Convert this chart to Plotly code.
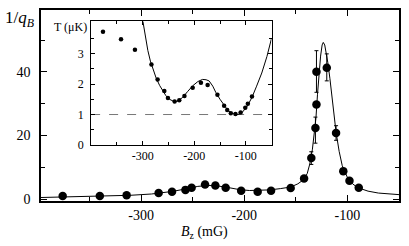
import plotly.graph_objects as go

# ---- main panel data: 1/q_B vs B_z (mG) ----
main_x = [-376, -340, -314, -283, -270, -257, -251, -238, -228, -218, -203, -187, -174,
          -155, -142, -135, -131, -130, -130, -120, -111, -104, -98, -89]
main_y = [1.0, 1.0, 1.2, 1.9, 2.3, 2.9, 3.6, 4.6, 4.3, 3.6, 2.6, 2.3, 2.6,
          3.5, 6.5, 12.9, 22.4, 29.8, 40.1, 41.3, 20.8, 8.8, 5.8, 3.6]
err_plus = [0, 0, 0, 0, 0, 0, 0, 0, 0, 0, 0, 0, 0,
            0, 0, 2.0, 3.4, 0, 6.6, 4.4, 2.3, 0, 0, 0]
err_minus = [0, 0, 0, 0, 0, 0, 0, 0, 0, 0, 0, 0, 0,
             0, 0, 2.0, 4.8, 0, 6.5, 4.1, 2.3, 0, 0, 0]

# fitted curve
fit_x = [-397, -370, -340, -310, -290, -270, -255, -245, -235, -225, -215, -205, -195,
         -185, -175, -165, -155, -148, -143, -139, -136.5, -134, -132, -130.5, -129,
         -127.5, -126, -124.5, -123.4, -122, -120.5, -119, -117, -115, -113, -111,
         -108, -105, -100, -95, -90, -80, -70, -60, -50]
fit_y = [0.5, 0.7, 0.9, 1.2, 1.6, 2.4, 3.3, 4.0, 4.3, 4.1, 3.6, 3.0, 2.7,
         2.7, 2.9, 3.3, 3.8, 4.8, 6.0, 8.0, 11.0, 15.5, 20.5, 25.5, 33,
         40, 45, 48.5, 49.3, 48.5, 46, 43, 38, 32, 26, 21,
         15, 10.5, 6.8, 4.8, 3.6, 2.5, 1.9, 1.6, 1.4]

# ---- inset data: T (uK) vs B_z (mG) ----
inset_x = [-377, -342, -315, -283, -271, -258, -251, -238, -229, -219, -203, -187, -174,
           -155, -142, -136, -129, -120, -110, -101, -96, -88]
inset_y = [3.71, 3.47, 3.12, 2.64, 2.15, 1.77, 1.54, 1.43, 1.47, 1.61, 1.88, 2.04, 1.97,
           1.65, 1.29, 1.15, 1.04, 1.02, 1.07, 1.22, 1.35, 1.59]
icurve_x = [-303, -300, -295, -290, -285, -280, -274, -267, -261, -255, -248, -243, -238.5,
            -232, -222.5, -213, -203, -193, -184, -177, -171, -164, -158, -150, -142,
            -134, -126, -120, -113, -107, -98, -88, -79, -69, -59, -50]
icurve_y = [4.4, 4.1, 3.55, 3.1, 2.75, 2.5, 2.2, 1.95, 1.77, 1.62, 1.5, 1.45, 1.42,
            1.44, 1.56, 1.75, 1.94, 2.08, 2.15, 2.14, 2.1, 1.93, 1.72, 1.5, 1.29,
            1.12, 1.04, 1.0, 1.01, 1.07, 1.25, 1.56, 1.93, 2.36, 2.9, 3.5]
ref_x = [-400, -50]
ref_y = [1, 1]

main_ticks = [-300, -200, -100]
main_ticktext = ["-300", "-200", "-100"]
inset_ticktext = ["-300", "-200", "-100"]

FONT = "Liberation Serif"

fig = go.Figure()
fig.add_trace(go.Scatter(x=fit_x, y=fit_y, mode="lines",
                         line=dict(color="black", width=1), xaxis="x", yaxis="y"))
fig.add_trace(go.Scatter(x=main_x, y=main_y, mode="markers",
                         marker=dict(color="black", size=8.5),
                         error_y=dict(type="data", array=err_plus, arrayminus=err_minus,
                                      color="black", thickness=1, width=2),
                         xaxis="x", yaxis="y"))
fig.add_trace(go.Scatter(x=ref_x, y=ref_y, mode="lines",
                         line=dict(color="#777777", width=1, dash="dash"),
                         xaxis="x2", yaxis="y2"))
fig.add_trace(go.Scatter(x=icurve_x, y=icurve_y, mode="lines",
                         line=dict(color="black", width=1), xaxis="x2", yaxis="y2"))
fig.add_trace(go.Scatter(x=inset_x, y=inset_y, mode="markers",
                         marker=dict(color="black", size=4.5), xaxis="x2", yaxis="y2"))

axis_common = dict(showline=True, linecolor="black", mirror="allticks", ticks="inside",
                   tickcolor="black", showgrid=False, zeroline=False)

fig.update_layout(
    width=409, height=246,
    margin=dict(l=41, r=8, t=8, b=45),
    paper_bgcolor="white", plot_bgcolor="white",
    showlegend=False,
    font=dict(family=FONT, color="black", size=14),
    xaxis=dict(domain=[0, 1], range=[-397, -50], anchor="y",
               tickvals=main_ticks, ticktext=main_ticktext, ticklen=6, tickwidth=1.2,
               linewidth=1.5, tickfont=dict(size=14),
               minor=dict(ticks="inside", tickvals=[-350, -250, -150], ticklen=4,
                          tickcolor="black"),
               **axis_common),
    yaxis=dict(domain=[0, 1], range=[-0.6, 59.5], anchor="x",
               tickvals=[0, 20, 40], ticklen=6, tickwidth=1.2, linewidth=1.5,
               tickfont=dict(size=14), ticklabelstandoff=6,
               minor=dict(ticks="inside", tickvals=[10, 30, 50], ticklen=4,
                          tickcolor="black"),
               **axis_common),
    xaxis2=dict(domain=[0.140, 0.644], range=[-400, -50], anchor="y2",
                tickvals=main_ticks, ticktext=inset_ticktext, ticklen=4, linewidth=1,
                tickfont=dict(size=12),
                minor=dict(ticks="inside", tickvals=[-350, -250, -150], ticklen=3,
                           tickcolor="black"),
                **axis_common),
    yaxis2=dict(domain=[0.293, 0.940], range=[0, 4.05], anchor="x2",
                tickvals=[0, 1, 2, 3], ticklen=4, linewidth=1,
                tickfont=dict(size=12), ticklabelstandoff=4,
                minor=dict(ticks="inside", tickvals=[0.5, 1.5, 2.5, 3.5], ticklen=3,
                           tickcolor="black"),
                **axis_common),
    annotations=[
        dict(text="1/<i>q</i><sub><i>B</i></sub>", xref="paper", yref="paper",
             x=-0.105, y=0.955, xanchor="left", yanchor="middle", showarrow=False,
             font=dict(size=17, family=FONT)),
        dict(text="<i>B</i><sub>z</sub> (mG)", xref="paper", yref="paper",
             x=0.458, y=-0.165, xanchor="center", yanchor="middle", showarrow=False,
             font=dict(size=14, family=FONT)),
        dict(text="T (μK)", xref="paper", yref="paper",
             x=0.083, y=0.912, xanchor="center", yanchor="middle", showarrow=False,
             font=dict(size=12, family=FONT)),
    ],
)

fig.write_html("out.html",
               config={"displayModeBar": False},
               post_script="document.body.style.margin='0';document.body.style.overflow='hidden';")
